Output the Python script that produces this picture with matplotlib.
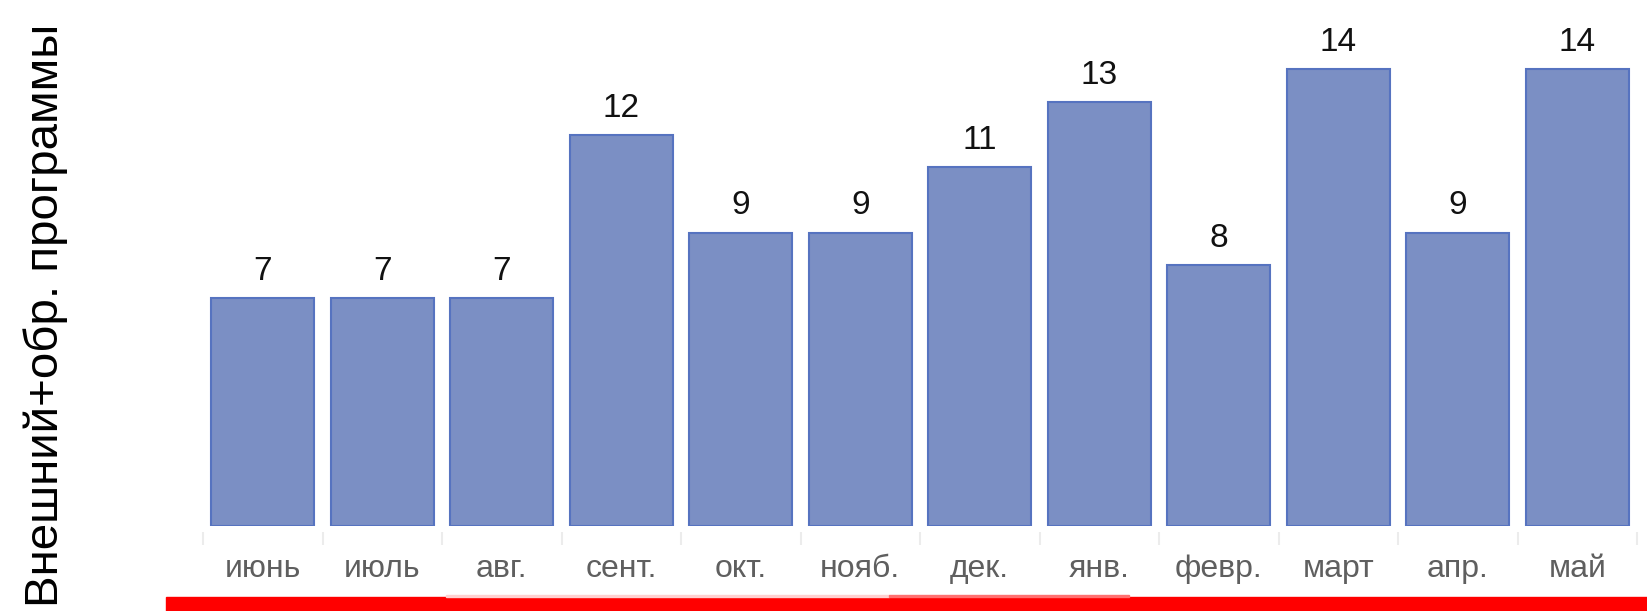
import numpy as np
import matplotlib.pyplot as plt
from matplotlib.patches import Rectangle

months = ['июнь', 'июль', 'авг.', 'сент.', 'окт.', 'нояб.',
          'дек.', 'янв.', 'февр.', 'март', 'апр.', 'май']
values = [7, 7, 7, 12, 9, 9, 11, 13, 8, 14, 9, 14]
ylabel = 'Внешний+обр. программы'

plt.rcParams['font.family'] = ['Liberation Sans', 'DejaVu Sans']

W, H = 1647, 611
fig = plt.figure(figsize=(W / 100, H / 100), dpi=100)
ax = fig.add_axes([203 / W, (H - 526) / H, (1637 - 203) / W, 526 / H])

x = np.arange(len(months))
bars = ax.bar(x, values, width=0.862, color='#7b8fc4',
              edgecolor='#5673c0', linewidth=1.5)
ax.bar_label(bars, labels=[str(v) for v in values], padding=8,
             fontsize=24, color='#111111')

ax.set_xlim(-0.5, len(months) - 0.5)
ax.set_ylim(0, 16.13)
ax.set_yticks([])
for s in ['top', 'right', 'left']:
    ax.spines[s].set_visible(False)
ax.spines['bottom'].set_position(('outward', 4))
ax.spines['bottom'].set_visible(False)

ax.set_xticks(x)
ax.set_xticklabels(months, fontsize=23, color='#5f5f5f')
ax.tick_params(axis='x', which='major', length=0, pad=16)
ax.set_xticks(np.arange(-0.5, len(months)), minor=True)
ax.tick_params(axis='x', which='minor', length=9, width=1.5,
               color='#ececec', direction='out')

fig.text(46 / W, 1 - 315 / H, ylabel, rotation=90, ha='center',
         va='center', fontsize=34.2, color='black')

# red strip along the bottom of the slide
fig.patches.append(Rectangle((166 / W, 0), 1 - 166 / W, 14 / H,
                             transform=fig.transFigure, color='#ff0000'))
fig.patches.append(Rectangle((446 / W, 14 / H), (889 - 446) / W, 2 / H,
                             transform=fig.transFigure, color='#ffd0d0'))
fig.patches.append(Rectangle((889 / W, 14 / H), (1129 - 889) / W, 2 / H,
                             transform=fig.transFigure, color='#ff7070'))

fig.savefig('out.png', dpi=100)
